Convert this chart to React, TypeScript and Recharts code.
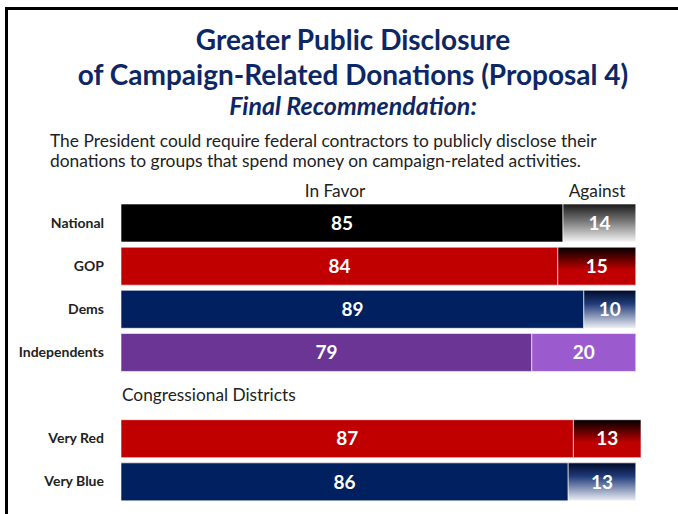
import React from "react";
import { BarChart, Bar, XAxis, YAxis, Cell, LabelList } from "recharts";

const categories = ["National", "GOP", "Dems", "Independents", "Congressional Districts", "Very Red", "Very Blue"];
const headerRows = ["Congressional Districts"];
const inFavor: (number | null)[] = [85, 84, 89, 79, null, 87, 86];
const against: (number | null)[] = [14, 15, 10, 20, null, 13, 13];
const favorColors = ["#000000", "#c00000", "#002060", "#6a3595", "#ffffff", "#c00000", "#002060"];
const againstFills = ["url(#gGray)", "url(#gRed)", "url(#gBlue)", "#9b5bcf", "#ffffff", "url(#gRed)", "url(#gBlue)"];

const titleLines = ["Greater Public Disclosure", "of Campaign-Related Donations (Proposal 4)"];
const subtitle = "Final Recommendation:";
const descLines = [
  "The President could require federal contractors to publicly disclose their",
  "donations to groups that spend money on campaign-related activities.",
];
const seriesNames = ["In Favor", "Against"];

const data = categories.map((c, i) => ({ name: c, favor: inFavor[i], against: against[i] }));

const FONT = "Lato, 'Open Sans', sans-serif";

const Tick = (props: any) => {
  const { x, y, payload } = props;
  if (headerRows.includes(payload.value)) {
    return (
      <text x={x + 18} y={y} dy={6} textAnchor="start" fontSize={17.3} fill="#222" fontFamily={FONT}>
        {payload.value}
      </text>
    );
  }
  return (
    <text x={x} y={y} dy={5} textAnchor="end" fontSize={14} fontWeight="bold" fill="#222" fontFamily={FONT}>
      {payload.value}
    </text>
  );
};

export default function App() {
  return (
    <div style={{ position: "absolute", left: 0, top: 0, width: 678, height: 514, background: "#fff", overflow: "hidden", fontFamily: FONT }}>
      <div style={{ position: "absolute", left: 5, top: 7, width: 673, height: 3, background: "#000" }} />
      <div style={{ position: "absolute", left: 5, top: 7, width: 3, height: 507, background: "#000" }} />
      <div style={{ position: "absolute", left: 0, width: 706, top: 22, textAlign: "center", color: "#0d2766", fontWeight: "bold", fontSize: 28, lineHeight: "35px" }}>
        <div>{titleLines[0]}</div>
        <div>{titleLines[1]}</div>
      </div>
      <div style={{ position: "absolute", left: 0, width: 706, top: 90, textAlign: "center", color: "#0d2766", fontWeight: "bold", fontStyle: "italic", fontSize: 25, lineHeight: "30px" }}>
        {subtitle}
      </div>
      <div style={{ position: "absolute", left: 50, top: 131, color: "#222", fontSize: 17.4, lineHeight: "20px", whiteSpace: "nowrap" }}>
        <div>{descLines[0]}</div>
        <div>{descLines[1]}</div>
      </div>
      <div style={{ position: "absolute", left: 235, width: 200, top: 180, textAlign: "center", color: "#222", fontSize: 17.3 }}>
        {seriesNames[0]}
      </div>
      <div style={{ position: "absolute", left: 497, width: 200, top: 180, textAlign: "center", color: "#222", fontSize: 17.3 }}>
        {seriesNames[1]}
      </div>
      <div style={{ position: "absolute", left: 0, top: 0 }}>
        <BarChart
          width={678}
          height={514}
          data={data}
          layout="vertical"
          margin={{ top: 201, right: 37, bottom: 11, left: 11 }}
          barSize={38}
        >
          <defs>
            <linearGradient id="gGray" x1="0" y1="0" x2="0" y2="1">
              <stop offset="0%" stopColor="#1a1a1a" />
              <stop offset="45%" stopColor="#777777" />
              <stop offset="100%" stopColor="#f4f4f4" />
            </linearGradient>
            <linearGradient id="gRed" x1="0" y1="0" x2="0" y2="1">
              <stop offset="0%" stopColor="#000000" />
              <stop offset="60%" stopColor="#c00000" />
              <stop offset="100%" stopColor="#c00000" />
            </linearGradient>
            <linearGradient id="gBlue" x1="0" y1="0" x2="0" y2="1">
              <stop offset="0%" stopColor="#000a28" />
              <stop offset="35%" stopColor="#1f3a78" />
              <stop offset="100%" stopColor="#eef0f5" />
            </linearGradient>
          </defs>
          <XAxis type="number" domain={[0, 100]} hide allowDataOverflow />
          <YAxis
            type="category"
            dataKey="name"
            width={110}
            axisLine={false}
            tickLine={false}
            tickSize={0}
            tickMargin={17}
            tick={<Tick />}
            interval={0}
          />
          <Bar dataKey="favor" stackId="a" isAnimationActive={false} stroke="#ffffff" strokeWidth={0.6}>
            {data.map((d, i) => (
              <Cell key={i} fill={favorColors[i]} />
            ))}
            <LabelList dataKey="favor" position="center" fill="#ffffff" fontSize={19} fontWeight="bold" fontFamily={FONT} />
          </Bar>
          <Bar dataKey="against" stackId="a" isAnimationActive={false} stroke="#ffffff" strokeWidth={0.6}>
            {data.map((d, i) => (
              <Cell key={i} fill={againstFills[i]} />
            ))}
            <LabelList dataKey="against" position="center" fill="#ffffff" fontSize={19} fontWeight="bold" fontFamily={FONT} />
          </Bar>
        </BarChart>
      </div>
    </div>
  );
}
